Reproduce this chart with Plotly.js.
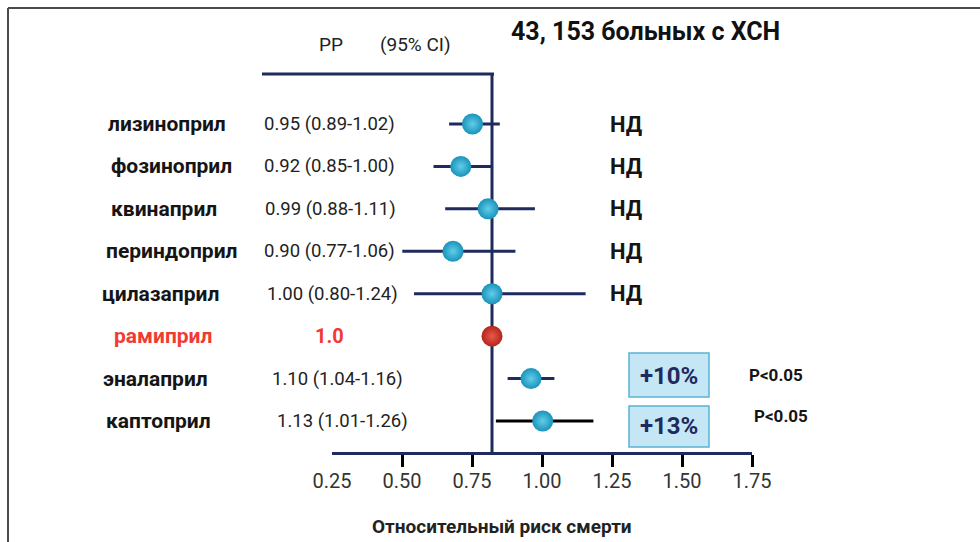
<!DOCTYPE html>
<html>
<head>
<meta charset="utf-8">
<script src="https://cdn.plot.ly/plotly-3.0.1.min.js"></script>
<style>html,body{margin:0;padding:0;background:#fff;}#chart{width:980px;height:542px;}</style>
</head>
<body>
<div id="chart"></div>
<script>
// ---- data ----
const drugs = ['лизиноприл','фозиноприл','квинаприл','периндоприл','цилазаприл','рамиприл','эналаприл','каптоприл'];
const rr = [0.95, 0.92, 0.99, 0.90, 1.00, 1.00, 1.10, 1.13];
const ciLow = [0.89, 0.85, 0.88, 0.77, 0.80, null, 1.04, 1.01];
const ciHigh = [1.02, 1.00, 1.11, 1.06, 1.24, null, 1.16, 1.26];
const rrLabels = ['0.95 (0.89-1.02)','0.92 (0.85-1.00)','0.99 (0.88-1.11)','0.90 (0.77-1.06)','1.00 (0.80-1.24)','1.0','1.10 (1.04-1.16)','1.13 (1.01-1.26)'];
const sigLabels = ['НД','НД','НД','НД','НД','','P<0.05','P<0.05'];
const excessLabels = ['','','','','','','+10%','+13%'];
const tickVals = [0.25, 0.50, 0.75, 1.00, 1.25, 1.50, 1.75];
const tickLabels = ['0.25','0.50','0.75','1.00','1.25','1.50','1.75'];
const refValue = 1.0;
const titleText = '43, 153 больных с ХСН';
const xTitle = 'Относительный риск смерти';
const headRR = 'РР';
const headCI = '(95% CI)';

// ---- styles / layout helpers ----
const W = 980, H = 542;
const px = v => v / W;
const py = v => (H - v) / H;
const NAVY = '#1f2a5e';
const FONT = 'Roboto, "Noto Sans", "DejaVu Sans", sans-serif';
const refIndex = 5;
const ciColors = [NAVY, NAVY, NAVY, NAVY, NAVY, NAVY, NAVY, '#000000'];
const nameX = [106,109,109,104,100,112,101,104];
const valueX = [262,262,263,262,265,313,270,275];

const traces = [];
// CI lines
for (let i = 0; i < drugs.length; i++) {
  if (ciLow[i] === null) continue;
  traces.push({
    type: 'scatter', mode: 'lines', x: [ciLow[i], ciHigh[i]], y: [drugs[i], drugs[i]],
    line: {color: ciColors[i], width: 3}, hoverinfo: 'skip', showlegend: false
  });
}
// point estimates
traces.push({
  type: 'scatter', mode: 'markers', x: rr, y: drugs,
  marker: {
    size: 21,
    color: drugs.map((d, i) => i === refIndex ? '#b3261c' : '#1a93ba'),
    gradient: {type: 'radial', color: drugs.map((d, i) => i === refIndex ? '#e9584b' : '#62cdea')},
    line: {width: 0}
  },
  hoverinfo: 'skip', showlegend: false
});
// dummy traces to anchor the tick axes
traces.push({type:'scatter', mode:'markers', x:[tickVals[0]], y:[drugs[0]], xaxis:'x2', marker:{opacity:0}, hoverinfo:'skip', showlegend:false});
traces.push({type:'scatter', mode:'markers', x:[tickVals[0]], y:[drugs[0]], xaxis:'x3', marker:{opacity:0}, hoverinfo:'skip', showlegend:false});

const annotations = [];
drugs.forEach((d, i) => {
  annotations.push({xref:'paper', yref:'y', x:px(nameX[i]), y:d, xanchor:'left', yanchor:'middle', showarrow:false,
    text:'<b>'+d+'</b>', font:{family:FONT, size:21, color: i === refIndex ? '#f03a32' : '#151515'}});
  annotations.push({xref:'paper', yref:'y', x:px(valueX[i]), y:d, xanchor:'left', yanchor:'middle', showarrow:false,
    text: i === refIndex ? '<b>'+rrLabels[i]+'</b>' : rrLabels[i],
    font:{family:FONT, size: i === refIndex ? 20 : 18.5, color: i === refIndex ? '#f03a32' : '#222'}});
  if (sigLabels[i] === 'НД') {
    annotations.push({xref:'paper', yref:'y', x:px(626), y:d, xanchor:'center', yanchor:'middle', showarrow:false,
      text:'<b>'+sigLabels[i]+'</b>', font:{family:FONT, size:22, color:'#151515'}});
  } else if (sigLabels[i]) {
    annotations.push({xref:'paper', yref:'y', x:px(i === 6 ? 747 : 752), y:d, xanchor:'left', yanchor:'middle', showarrow:false,
      yshift: i === 6 ? 4 : 5,
      text:'<b>'+sigLabels[i]+'</b>', font:{family:FONT, size:17, color:'#151515'}});
  }
  if (excessLabels[i]) {
    annotations.push({xref:'paper', yref:'y', x:px(669), y:d, xanchor:'center', yanchor:'middle', showarrow:false,
      yshift: i === 6 ? 3 : -5,
      text:'<b>'+excessLabels[i]+'</b>', font:{family:FONT, size:24, color:NAVY}});
  }
});
annotations.push({xref:'paper', yref:'paper', x:px(645), y:py(32), xanchor:'center', yanchor:'middle', showarrow:false,
  text:'<b>'+titleText+'</b>', font:{family:FONT, size:25, color:'#111'}});
annotations.push({xref:'paper', yref:'paper', x:px(331), y:py(44), xanchor:'center', yanchor:'middle', showarrow:false,
  text:headRR, font:{family:FONT, size:19, color:'#222'}});
annotations.push({xref:'paper', yref:'paper', x:px(415), y:py(44), xanchor:'center', yanchor:'middle', showarrow:false,
  text:headCI, font:{family:FONT, size:19, color:'#222'}});
annotations.push({xref:'paper', yref:'paper', x:px(502), y:py(526), xanchor:'center', yanchor:'middle', showarrow:false,
  text:'<b>'+xTitle+'</b>', font:{family:FONT, size:19, color:'#222'}});

const shapes = [
  // frame
  {type:'line', xref:'paper', yref:'paper', x0:px(8), x1:px(8), y0:0, y1:py(8), line:{color:'#4a4a4a', width:2}},
  {type:'line', xref:'paper', yref:'paper', x0:px(8), x1:1, y0:py(8), y1:py(8), line:{color:'#4a4a4a', width:2}},
  // header rule
  {type:'line', xref:'paper', yref:'paper', x0:px(262), x1:px(494), y0:py(74), y1:py(74), line:{color:NAVY, width:3}},
  // reference line at RR = 1
  {type:'line', xref:'x', yref:'paper', x0:refValue, x1:refValue, y0:py(452), y1:py(74), line:{color:NAVY, width:3}, layer:'below'},
  // boxes
  {type:'rect', xref:'paper', yref:'paper', x0:px(629), x1:px(709), y0:py(397), y1:py(353), fillcolor:'#c5e7f5', line:{color:'#5ab3d3', width:1.5}},
  {type:'rect', xref:'paper', yref:'paper', x0:px(629), x1:px(709), y0:py(447), y1:py(406), fillcolor:'#c5e7f5', line:{color:'#5ab3d3', width:1.5}}
];

const slope = 390; // px per unit RR for the drawn marks
const xLeft = 332, xRight = 752, xRef = 492;
const layout = {
  width: W, height: H,
  margin: {l:0, r:0, t:0, b:0},
  paper_bgcolor: '#ffffff', plot_bgcolor: 'rgba(0,0,0,0)',
  showlegend: false,
  font: {family: FONT},
  xaxis: {domain:[px(xLeft), px(xRight)], range:[refValue - (xRef - xLeft)/slope, refValue + (xRight - xRef)/slope],
    visible:false, fixedrange:true},
  xaxis2: {overlaying:'x', anchor:'y', range:[tickVals[0], tickVals[tickVals.length-1]], tickmode:'array',
    tickvals: tickVals, ticktext: tickLabels, ticks:'', showline:false, showgrid:false, zeroline:false,
    tickfont:{family:FONT, size:20, color:'#333'}, ticklabelstandoff: 15},
  xaxis3: {overlaying:'x', anchor:'y', range:[tickVals[0], tickVals[tickVals.length-1]], tickmode:'array',
    tickvals: tickVals.slice(1), showticklabels:false, ticks:'outside', ticklen:12, tickwidth:3, tickcolor:'#000',
    showline:true, linecolor:NAVY, linewidth:3, showgrid:false, zeroline:false},
  yaxis: {domain:[(H-452)/H, (H-74)/H], type:'category', categoryorder:'array', categoryarray: drugs,
    range:[7 + (452-421)/42.43, -(124-74)/42.43], visible:false, fixedrange:true},
  annotations: annotations,
  shapes: shapes
};

Plotly.newPlot('chart', traces, layout, {staticPlot:true, displayModeBar:false});
</script>
</body>
</html>
